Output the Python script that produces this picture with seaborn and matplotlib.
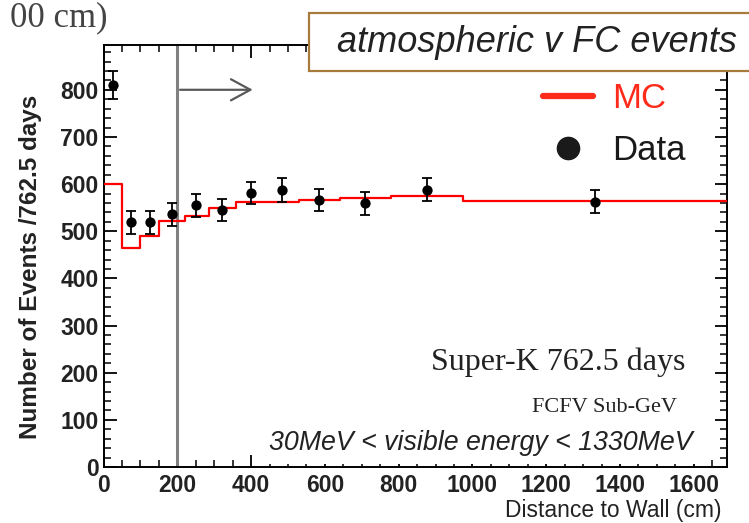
import numpy as np
import matplotlib.pyplot as plt
import seaborn as sns
from matplotlib.lines import Line2D
from matplotlib.patches import Rectangle
from matplotlib.ticker import MultipleLocator

# MC histogram (bin edges in cm, expected events per bin)
mc_edges = [0, 50, 100, 150, 220, 285, 360, 440, 530, 640, 780, 975, 1690]
mc_counts = [600, 465, 490, 522, 533, 550, 562, 562, 566, 570, 575, 565]

# data points (bin centres), counts and errors
data_x = [25, 75, 125, 185, 252, 322, 400, 485, 585, 710, 877, 1332]
data_y = [810, 519, 519, 536, 555, 545, 581, 588, 566, 559, 588, 563]
data_err = [30, 24, 24, 24, 24, 24, 24, 25, 24, 24, 24, 24]

sns.set_style("ticks")
plt.rcParams['font.family'] = ['Liberation Sans', 'DejaVu Sans']

W, H = 749, 523
fig = plt.figure(figsize=(W / 100, H / 100), dpi=100)
ax = fig.add_axes([103.5 / W, 1 - 467 / H, (727 - 103.5) / W, (467 - 45) / H])

# MC as a step histogram
centers = [(a + b) / 2 for a, b in zip(mc_edges[:-1], mc_edges[1:])]
sns.histplot(x=centers, weights=mc_counts, bins=mc_edges, element='step',
             fill=False, color='red', linewidth=1.6, ax=ax, zorder=3)

# data with error bars
ax.errorbar(data_x, data_y, yerr=data_err, fmt='none', ecolor='black',
            elinewidth=1.3, capsize=3.5, capthick=1.3, zorder=4)
sns.scatterplot(x=data_x, y=data_y, color='black', s=55, edgecolor='black',
                linewidth=0, ax=ax, zorder=5)

# fiducial cut at 200 cm
ax.axvline(200, color='0.5', lw=2.2, zorder=2)
ax.annotate('', xy=(412, 800), xytext=(200, 800),
            arrowprops=dict(arrowstyle='->,head_length=0.7,head_width=0.38',
                            mutation_scale=20, color='0.35', lw=1.6))

ax.set_xlim(0, 1690)
ax.set_ylim(0, 895)
ax.xaxis.set_major_locator(MultipleLocator(200))
ax.xaxis.set_minor_locator(MultipleLocator(50))
ax.yaxis.set_major_locator(MultipleLocator(100))
ax.yaxis.set_minor_locator(MultipleLocator(20))
ax.tick_params(which='both', direction='in', top=True, right=True, colors='black')
ax.tick_params(which='major', length=9, width=1.3, labelsize=16.5, pad=5)
ax.tick_params(axis='y', which='major', pad=3.5)
ax.tick_params(which='minor', length=5, width=1.1)
for lab in ax.get_xticklabels() + ax.get_yticklabels():
    lab.set_fontweight('bold')
    lab.set_color('#222222')
for s in ax.spines.values():
    s.set_linewidth(1.4)
    s.set_color('black')
    s.set_visible(True)

ax.set_ylabel('Number of Events /762.5 days', fontsize=17.5, fontweight='bold',
              color='#222222')
ax.yaxis.set_label_coords((42 - 103.5) / 624, (467 - 267) / 422)
ax.set_xlabel('Distance to Wall (cm)', fontsize=16.5, color='#222222', ha='right')
ax.xaxis.set_label_coords((722 - 103.5) / 624, (467 - 499) / 422)

# legend
handles = [Line2D([], [], color='#ff2a1a', lw=4.5),
           Line2D([], [], marker='o', color='#1a1a1a', ls='none', ms=16)]
leg = ax.legend(handles, ['MC', 'Data'], loc='upper left',
                bbox_to_anchor=(543 / W, 1 - 82 / H), bbox_transform=fig.transFigure,
                frameon=False, borderpad=0, borderaxespad=0, fontsize=25,
                handlelength=1.45, handletextpad=0.55, labelspacing=0.55)
leg.get_texts()[0].set_color('#ff2a1a')
leg.get_texts()[1].set_color('#1a1a1a')
leg.set_zorder(6)

# annotations inside the frame
fig.text(685 / W, 1 - 362 / H, 'Super-K 762.5 days', ha='right', va='center',
         family='Liberation Serif', fontsize=23, color='#222222')
fig.text(677 / W, 1 - 408 / H, 'FCFV Sub-GeV', ha='right', va='center',
         family='Liberation Serif', fontsize=16, color='#222222')
fig.text(693 / W, 1 - 443 / H, '30MeV < visible energy < 1330MeV', ha='right',
         va='center', fontsize=19.3, style='italic', color='#222222', zorder=7,
         bbox=dict(facecolor='white', edgecolor='none', pad=6))

# title box at the top (runs past the right edge)
fig.add_artist(Rectangle((309 / W, 1 - 71 / H), 460 / W, 58 / H,
                         transform=fig.transFigure, facecolor='white',
                         edgecolor='#a87a3c', lw=1.6, zorder=8, clip_on=False))
fig.text(337 / W, 1 - 42 / H, 'atmospheric v FC events', ha='left', va='center',
         fontsize=26, style='italic', color='#222222', zorder=9)

# cropped caption text at the top-left
fig.text(108 / W, 1 - 18 / H, '00 cm)', ha='right', va='center',
         family='Liberation Serif', fontsize=25, color='#444444')

fig.savefig('out.png', dpi=100)
